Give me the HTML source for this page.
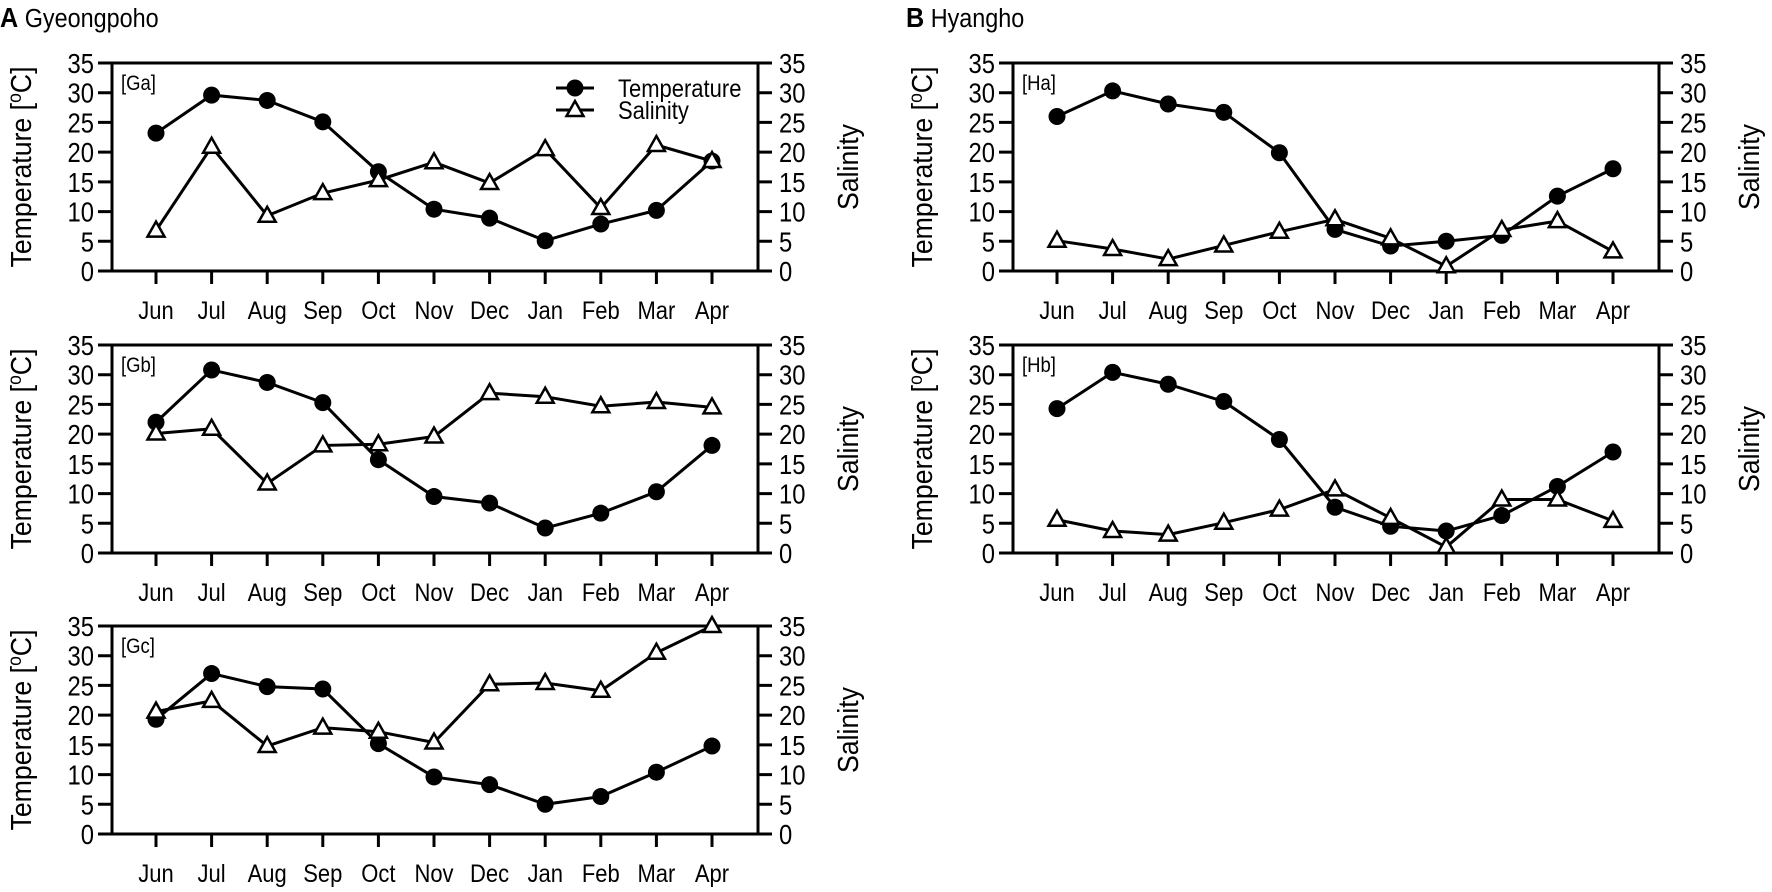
<!DOCTYPE html>
<html><head><meta charset="utf-8"><style>
body{margin:0;background:#fff;}
svg{display:block;font-family:"Liberation Sans",Arial,sans-serif;}
</style></head>
<body>
<svg id="fig" width="1772" height="892" viewBox="0 0 1772 892" xmlns="http://www.w3.org/2000/svg">
<text transform="translate(0,27) scale(0.9,1)" font-size="26" fill="#000"><tspan font-weight="bold" font-size="28">A</tspan>  Gyeongpoho</text>
<text transform="translate(906,27) scale(0.9,1)" font-size="26" fill="#000"><tspan font-weight="bold" font-size="28">B</tspan>  Hyangho</text>
</svg>
<script>
const months = ["Jun","Jul","Aug","Sep","Oct","Nov","Dec","Jan","Feb","Mar","Apr"];
const yTicks = [0,5,10,15,20,25,30,35];
const gaTemp = [23.2,29.6,28.7,25.1,16.7,10.4,8.9,5.1,7.9,10.2,18.5];
const gaSal  = [6.8,20.9,9.3,13.1,15.3,18.3,14.8,20.5,10.6,21.2,18.5];
const gbTemp = [22.0,30.8,28.7,25.3,15.7,9.5,8.4,4.2,6.7,10.3,18.1];
const gbSal  = [20.1,20.9,11.7,18.1,18.3,19.6,26.9,26.3,24.7,25.4,24.5];
const gcTemp = [19.3,27.0,24.8,24.4,15.2,9.6,8.3,5.0,6.3,10.4,14.8];
const gcSal  = [20.6,22.4,14.8,17.9,17.2,15.4,25.2,25.4,24.1,30.5,35.0];
const haTemp = [26.0,30.3,28.1,26.7,19.9,7.0,4.2,5.0,6.0,12.6,17.2];
const haSal  = [5.1,3.7,2.0,4.3,6.6,8.7,5.5,0.8,6.9,8.4,3.3];
const hbTemp = [24.3,30.4,28.4,25.5,19.1,7.7,4.5,3.7,6.3,11.2,17.0];
const hbSal  = [5.6,3.7,3.1,5.1,7.3,10.7,5.9,1.0,9.0,9.0,5.4];

const NS="http://www.w3.org/2000/svg";
const svg=document.getElementById('fig');
function mk(tag,attrs,parent){const e=document.createElementNS(NS,tag);for(const k in attrs)e.setAttribute(k,attrs[k]);(parent||svg).appendChild(e);return e;}
function txt(parent,x,y,size,sx,anchor,str,rot){
  const t=mk('text',{transform:`translate(${x},${y})${rot?' rotate(-90)':''} scale(${sx},1)`,'font-size':size,'text-anchor':anchor},parent);
  t.textContent=str;return t;
}

function panel(id,left,top,temp,sal,legend){
  const right=left+646, bottom=top+208, firstX=left+44, step=55.6;
  const g=mk('g',{});
  
  
  const xs=i=>firstX+i*step;
  const ys=v=>bottom-v*(208/35);
  const frame=mk('path',{d:`M${left-14} ${top}H${right+14}M${left} ${top}V${bottom}M${right} ${top}V${bottom}M${left-14} ${bottom}H${right+14}`,stroke:'#000','stroke-width':3,fill:'none'},g);
  
  
  yTicks.forEach(t=>{
    const y=ys(t);
    const tk=mk('path',{d:`M${left-14} ${y}H${left}M${right} ${y}H${right+14}`,stroke:'#000','stroke-width':3},g);
    
    
    const l=txt(g,left-18,y+10,28,0.85,'end',String(t));
    
    
    const r=txt(g,right+21,y+10,28,0.85,'start',String(t));
    
    
  });
  months.forEach((m,i)=>{
    const x=xs(i);
    const tk=mk('path',{d:`M${x} ${bottom}V${bottom+13}`,stroke:'#000','stroke-width':3},g);
    
    
    const l=txt(g,x,bottom+48,25,0.88,'middle',m);
    
    
  });
  const yt=mk('text',{transform:`translate(${left-81},${top+104}) rotate(-90) scale(0.92,1)`,'font-size':29,'text-anchor':'middle'},g);
  yt.innerHTML='Temperature [<tspan dy="-10" font-size="19">o</tspan><tspan dy="10">C]</tspan>';
  
  
  const st=txt(g,right+100,top+104,29,0.92,'middle','Salinity',true);
  
  
  const pl=txt(g,left+9,top+27,21,0.88,'start','['+id+']');
  
  
  const tl=mk('polyline',{points:temp.map((v,i)=>xs(i)+','+ys(v)).join(' '),fill:'none',stroke:'#000','stroke-width':3},g);
  
  
  const sl=mk('polyline',{points:sal.map((v,i)=>xs(i)+','+ys(v)).join(' '),fill:'none',stroke:'#000','stroke-width':3},g);
  
  
  temp.forEach((v,i)=>{
    const c=mk('circle',{cx:xs(i),cy:ys(v),r:8.5,fill:'#000'},g);
    
    
  });
  sal.forEach((v,i)=>{
    const x=xs(i),y=ys(v);
    const t=mk('polygon',{points:`${x},${y-9} ${x-8.5},${y+6} ${x+8.5},${y+6}`,fill:'#fff',stroke:'#000','stroke-width':2.5},g);
    
    
  });
  if(legend){
    const lg=mk('g',{},g);
    
    
    const ly1=top+25, ly2=top+47, lx=left+444;
    mk('path',{d:`M${lx} ${ly1}H${lx+38}M${lx} ${ly2}H${lx+38}`,stroke:'#000','stroke-width':3},lg);
    mk('circle',{cx:lx+19,cy:ly1,r:8.5,fill:'#000'},lg);
    mk('polygon',{points:`${lx+19},${ly2-9} ${lx+10.5},${ly2+6} ${lx+27.5},${ly2+6}`,fill:'#fff',stroke:'#000','stroke-width':2.5},lg);
    const a=txt(lg,lx+62,ly1+9,25,0.88,'start','Temperature');
    
    
    const b=txt(lg,lx+62,ly2+9,25,0.88,'start','Salinity');
    
    
  }
}
panel('Ga',112,63,gaTemp,gaSal,true);
panel('Gb',112,345,gbTemp,gbSal,false);
panel('Gc',112,626,gcTemp,gcSal,false);
panel('Ha',1013,63,haTemp,haSal,false);
panel('Hb',1013,345,hbTemp,hbSal,false);
</script>
</body></html>
